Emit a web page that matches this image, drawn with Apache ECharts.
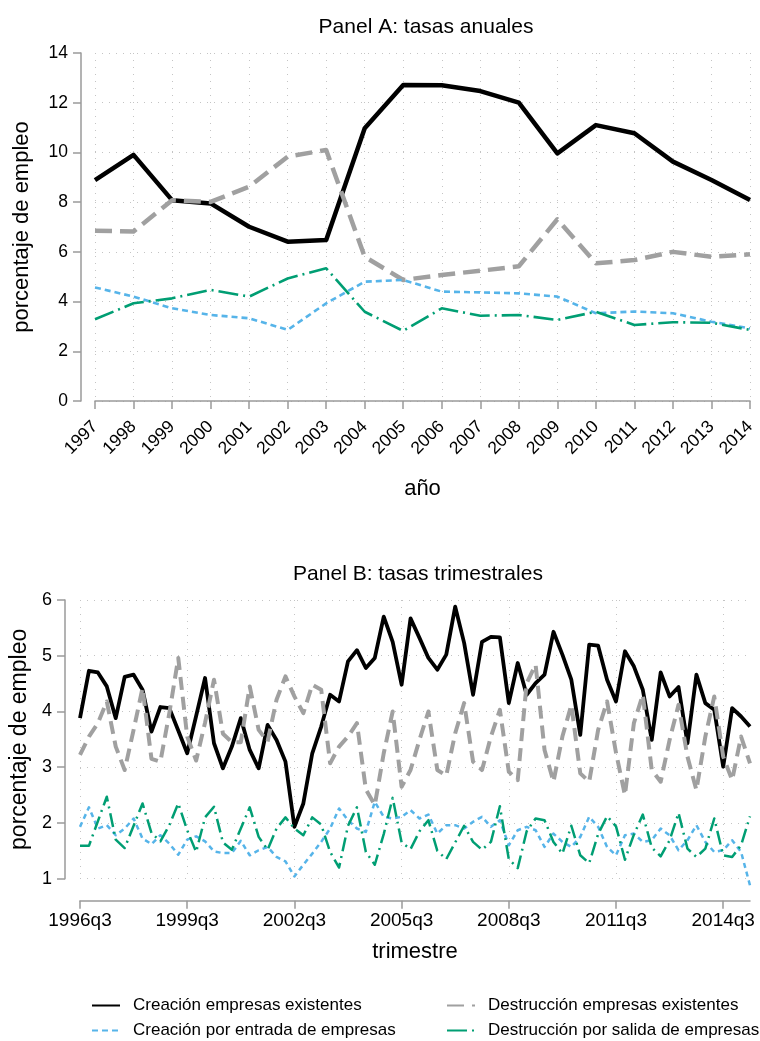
<!DOCTYPE html>
<html>
<head>
<meta charset="utf-8">
<script src="https://cdn.jsdelivr.net/npm/echarts@6/dist/echarts.min.js"></script>
<style>
  html, body { margin: 0; padding: 0; background: #ffffff; }
  #chart { width: 760px; height: 1041px; }
</style>
</head>
<body>
<div id="chart"></div>
<script>
// Panel A: annual rates (% of employment)
const years = ['1997', '1998', '1999', '2000', '2001', '2002', '2003', '2004', '2005',
  '2006', '2007', '2008', '2009', '2010', '2011', '2012', '2013', '2014'];
const creacionExistentesA = [8.89, 9.9, 8.08, 7.95, 7.01, 6.41, 6.48, 10.97, 12.71,
  12.7, 12.47, 12.0, 9.96, 11.1, 10.77, 9.63, 8.89, 8.09];
const destruccionExistentesA = [6.85, 6.82, 8.08, 8.01, 8.62, 9.83, 10.1, 5.8, 4.87,
  5.07, 5.24, 5.42, 7.31, 5.54, 5.67, 6.0, 5.8, 5.9];
const creacionEntradaA = [4.57, 4.2, 3.73, 3.46, 3.33, 2.86, 3.93, 4.8, 4.87,
  4.4, 4.37, 4.33, 4.2, 3.53, 3.6, 3.53, 3.19, 2.92];
const destruccionSalidaA = [3.29, 3.93, 4.13, 4.47, 4.2, 4.93, 5.34, 3.59, 2.82,
  3.73, 3.43, 3.46, 3.26, 3.59, 3.06, 3.17, 3.15, 2.86];

// Panel B: quarterly rates, 1996q3 to 2015q2
const firstYear = 1996;
const firstQuarter = 3;
const quarterCount = 76;
const quarters = [];
for (let k = 0; k < quarterCount; k++) {
  const q = firstQuarter - 1 + k;
  quarters.push((firstYear + Math.floor(q / 4)) + 'q' + (q % 4 + 1));
}
const creacionExistentesB = [3.88, 4.73, 4.70, 4.45, 3.88, 4.62, 4.66, 4.39, 3.64, 4.08,
  4.06, 3.66, 3.25, 3.92, 4.60, 3.43, 2.98, 3.37, 3.88, 3.31,
  2.98, 3.76, 3.49, 3.10, 1.93, 2.35, 3.25, 3.73, 4.30, 4.18,
  4.90, 5.10, 4.78, 4.96, 5.70, 5.25, 4.48, 5.67, 5.32, 4.96,
  4.75, 5.02, 5.88, 5.23, 4.30, 5.25, 5.34, 5.33, 4.15, 4.87,
  4.30, 4.51, 4.66, 5.43, 5.02, 4.57, 3.58, 5.20, 5.18, 4.57,
  4.18, 5.08, 4.81, 4.39, 3.49, 4.70, 4.27, 4.44, 3.43, 4.66,
  4.15, 4.03, 3.01, 4.06, 3.91, 3.73];
const destruccionExistentesB = [3.22, 3.55, 3.79, 4.18, 3.37, 2.95, 3.67, 4.42, 3.15, 3.10,
  3.97, 4.96, 3.55, 3.12, 3.80, 4.57, 3.60, 3.45, 3.45, 4.45,
  3.67, 3.46, 4.21, 4.63, 4.27, 3.97, 4.48, 4.39, 3.07, 3.37,
  3.55, 3.79, 2.60, 2.32, 3.25, 4.00, 2.65, 2.95, 3.49, 4.00,
  2.95, 2.85, 3.61, 4.15, 3.10, 2.95, 3.55, 4.03, 2.92, 2.77,
  4.51, 4.84, 3.31, 2.74, 3.55, 4.12, 2.89, 2.74, 3.67, 4.18,
  3.26, 2.50, 3.79, 4.30, 2.95, 2.74, 3.49, 4.12, 3.19, 2.59,
  3.55, 4.27, 3.19, 2.77, 3.55, 3.07];
const creacionEntradaB = [1.93, 2.28, 1.90, 1.96, 1.78, 1.90, 2.08, 1.72, 1.62, 1.78,
  1.63, 1.43, 1.70, 1.76, 1.67, 1.49, 1.46, 1.46, 1.68, 1.42,
  1.51, 1.57, 1.39, 1.31, 1.04, 1.25, 1.45, 1.66, 1.90, 2.26,
  2.05, 1.90, 1.84, 2.38, 2.11, 2.08, 2.11, 2.23, 2.08, 2.15,
  1.81, 1.96, 1.96, 1.90, 2.02, 2.11, 1.93, 2.05, 1.60, 1.87,
  1.93, 1.87, 1.57, 1.81, 1.66, 1.57, 1.75, 2.11, 1.93, 1.57,
  1.42, 1.78, 1.81, 1.66, 1.69, 1.90, 1.78, 1.51, 1.69, 1.96,
  1.66, 1.48, 1.51, 1.69, 1.48, 0.88];
const destruccionSalidaB = [1.59, 1.59, 2.03, 2.47, 1.70, 1.55, 1.95, 2.35, 1.82, 1.67,
  1.96, 2.35, 1.87, 1.48, 2.10, 2.29, 1.65, 1.52, 1.90, 2.28,
  1.75, 1.52, 1.90, 2.10, 1.90, 1.78, 2.10, 1.97, 1.48, 1.20,
  1.95, 2.28, 1.48, 1.25, 1.80, 2.45, 1.65, 1.53, 1.85, 2.05,
  1.50, 1.35, 1.65, 1.95, 1.66, 1.52, 1.66, 2.30, 1.35, 1.19,
  1.85, 2.08, 2.05, 1.66, 1.45, 1.95, 1.42, 1.28, 1.80, 2.12,
  1.94, 1.34, 1.79, 2.15, 1.56, 1.40, 1.69, 2.18, 1.54, 1.39,
  1.54, 2.08, 1.42, 1.39, 1.60, 2.12];

const names = {
  creEx: 'Creación empresas existentes',
  desEx: 'Destrucción empresas existentes',
  creEn: 'Creación por entrada de empresas',
  desSa: 'Destrucción por salida de empresas'
};

const FONT = "'Liberation Sans', Arial, Helvetica, sans-serif";
const AXIS_GRAY = '#9a9a9a';
const GRID_DOT = { color: '#c4c4c4', width: 1, type: [1, 6] };

// line looks per panel
const lookA = {
  creEx: { color: '#000000', width: 4.5, type: 'solid' },
  desEx: { color: '#a0a0a0', width: 4.5, type: [17, 8] },
  creEn: { color: '#56b4e9', width: 2.6, type: [6, 4] },
  desSa: { color: '#009e73', width: 2.6, type: [20, 5, 2, 5] }
};
const lookB = {
  creEx: { color: '#000000', width: 3.8, type: 'solid' },
  desEx: { color: '#a0a0a0', width: 4.0, type: [13, 7] },
  creEn: { color: '#56b4e9', width: 2.5, type: [5, 4] },
  desSa: { color: '#009e73', width: 2.5, type: [14, 5, 2, 5] }
};

function lineSeries(key, look, data, axisIndex) {
  return {
    name: names[key],
    type: 'line',
    xAxisIndex: axisIndex,
    yAxisIndex: axisIndex,
    data: data,
    symbol: 'none',
    clip: false,
    animation: false,
    color: look.color,
    lineStyle: { color: look.color, width: look.width, type: look.type, cap: 'butt', join: 'round' },
    emphasis: { disabled: true }
  };
}

// one legend entry per slot of the 2x2 key below the panels
function legendEntry(key, left, top) {
  return {
    data: [names[key]], left: left, top: top, orient: 'horizontal',
    itemWidth: 28, itemHeight: 14, selectedMode: false,
    itemStyle: { color: 'rgba(0,0,0,0)', borderWidth: 0, opacity: 0 },
    textStyle: { fontSize: 17, color: '#000', fontFamily: FONT, padding: [0, 0, 0, 8] }
  };
}

const chart = echarts.init(document.getElementById('chart'), null, { renderer: 'canvas' });

const option = {
  backgroundColor: '#ffffff',
  animation: false,
  textStyle: { fontFamily: FONT, color: '#000' },
  title: [
    { text: 'Panel A: tasas anuales', left: 421, top: 12, textAlign: 'center',
      textStyle: { fontFamily: FONT, fontSize: 21, fontWeight: 'normal', color: '#000' } },
    { text: 'Panel B: tasas trimestrales', left: 413, top: 559, textAlign: 'center',
      textStyle: { fontFamily: FONT, fontSize: 21, fontWeight: 'normal', color: '#000' } }
  ],
  grid: [
    { left: 95, right: 10, top: 53, height: 348 },
    { left: 80, right: 10, top: 600, height: 278.7 }
  ],
  xAxis: [
    {
      gridIndex: 0, type: 'category', data: years, boundaryGap: false, offset: 13,
      axisLine: { lineStyle: { color: AXIS_GRAY, width: 1.5 } },
      axisTick: { length: 8, lineStyle: { color: AXIS_GRAY, width: 1.5 } },
      axisLabel: { rotate: 45, margin: 10, fontSize: 17.5, color: '#000', fontFamily: FONT },
      splitLine: { show: true, lineStyle: GRID_DOT },
      name: 'año', nameLocation: 'middle', nameGap: 64,
      nameTextStyle: { fontSize: 22, color: '#000', fontFamily: FONT }
    },
    {
      gridIndex: 1, type: 'category', data: quarters, boundaryGap: false, offset: 22,
      axisLine: { lineStyle: { color: AXIS_GRAY, width: 1.5 } },
      axisTick: { length: 8, interval: 11, lineStyle: { color: AXIS_GRAY, width: 1.5 } },
      axisLabel: { interval: 11, margin: 11, fontSize: 19, color: '#000', fontFamily: FONT },
      splitLine: { show: true, interval: 11, lineStyle: GRID_DOT },
      name: 'trimestre', nameLocation: 'middle', nameGap: 40,
      nameTextStyle: { fontSize: 22, color: '#000', fontFamily: FONT }
    }
  ],
  yAxis: [
    {
      gridIndex: 0, type: 'value', min: 0, max: 14, interval: 2, offset: 14,
      axisLine: { show: true, lineStyle: { color: AXIS_GRAY, width: 1.5 } },
      axisTick: { show: true, length: 8, lineStyle: { color: AXIS_GRAY, width: 1.5 } },
      axisLabel: { margin: 13, fontSize: 17.5, color: '#000', fontFamily: FONT },
      splitLine: { show: true, lineStyle: GRID_DOT },
      name: 'porcentaje de empleo', nameLocation: 'middle', nameGap: 48,
      nameTextStyle: { fontSize: 22, color: '#000', fontFamily: FONT }
    },
    {
      gridIndex: 1, type: 'value', min: 1, max: 6, interval: 1, offset: 15,
      axisLine: { show: true, lineStyle: { color: AXIS_GRAY, width: 1.5 } },
      axisTick: { show: true, length: 8, lineStyle: { color: AXIS_GRAY, width: 1.5 } },
      axisLabel: { margin: 13, fontSize: 18, color: '#000', fontFamily: FONT },
      splitLine: { show: true, lineStyle: GRID_DOT },
      name: 'porcentaje de empleo', nameLocation: 'middle', nameGap: 32,
      nameTextStyle: { fontSize: 23, color: '#000', fontFamily: FONT }
    }
  ],
  legend: [
    legendEntry('creEx', 86, 992),
    legendEntry('desEx', 441, 992),
    legendEntry('creEn', 86, 1017),
    legendEntry('desSa', 441, 1017)
  ],
  series: [
    lineSeries('creEx', lookA.creEx, creacionExistentesA, 0),
    lineSeries('desEx', lookA.desEx, destruccionExistentesA, 0),
    lineSeries('creEn', lookA.creEn, creacionEntradaA, 0),
    lineSeries('desSa', lookA.desSa, destruccionSalidaA, 0),
    lineSeries('creEx', lookB.creEx, creacionExistentesB, 1),
    lineSeries('desEx', lookB.desEx, destruccionExistentesB, 1),
    lineSeries('creEn', lookB.creEn, creacionEntradaB, 1),
    lineSeries('desSa', lookB.desSa, destruccionSalidaB, 1)
  ]
};

chart.setOption(option);
</script>
</body>
</html>
